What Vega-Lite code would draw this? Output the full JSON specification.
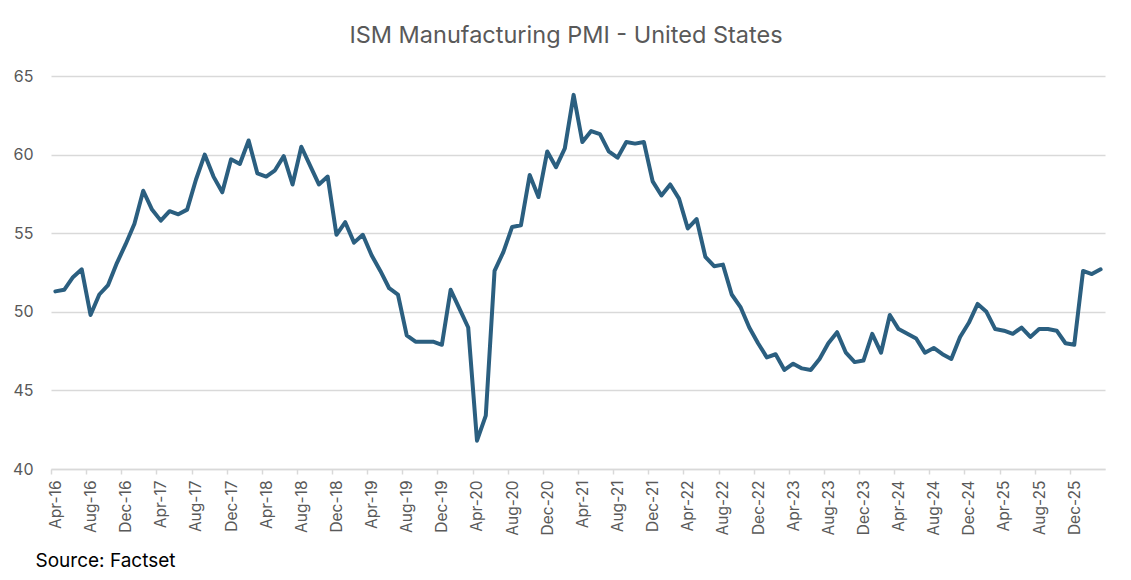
{
  "$schema": "https://vega.github.io/schema/vega-lite/v6.json",
  "width": 1054,
  "height": 393,
  "autosize": {"type": "none"},
  "padding": {"left": 51, "top": 76, "right": 26, "bottom": 111},
  "background": "white",
  "title": {
    "text": "ISM Manufacturing PMI - United States",
    "font": "Inter",
    "fontSize": 23.5,
    "fontWeight": "normal",
    "color": "#595959",
    "anchor": "middle",
    "baseline": "alphabetic",
    "dx": -12,
    "offset": 2
  },
  "config": {
    "view": {"stroke": null},
    "font": "Inter"
  },
  "data": {
    "values": [
      {"month": "Apr-16", "pmi": 51.3}, {"month": "May-16", "pmi": 51.4}, {"month": "Jun-16", "pmi": 52.2}, {"month": "Jul-16", "pmi": 52.7},
      {"month": "Aug-16", "pmi": 49.8}, {"month": "Sep-16", "pmi": 51.1}, {"month": "Oct-16", "pmi": 51.7}, {"month": "Nov-16", "pmi": 53.1},
      {"month": "Dec-16", "pmi": 54.3}, {"month": "Jan-17", "pmi": 55.6}, {"month": "Feb-17", "pmi": 57.7}, {"month": "Mar-17", "pmi": 56.5},
      {"month": "Apr-17", "pmi": 55.8}, {"month": "May-17", "pmi": 56.4}, {"month": "Jun-17", "pmi": 56.2}, {"month": "Jul-17", "pmi": 56.5},
      {"month": "Aug-17", "pmi": 58.4}, {"month": "Sep-17", "pmi": 60.0}, {"month": "Oct-17", "pmi": 58.6}, {"month": "Nov-17", "pmi": 57.6},
      {"month": "Dec-17", "pmi": 59.7}, {"month": "Jan-18", "pmi": 59.4}, {"month": "Feb-18", "pmi": 60.9}, {"month": "Mar-18", "pmi": 58.8},
      {"month": "Apr-18", "pmi": 58.6}, {"month": "May-18", "pmi": 59.0}, {"month": "Jun-18", "pmi": 59.9}, {"month": "Jul-18", "pmi": 58.1},
      {"month": "Aug-18", "pmi": 60.5}, {"month": "Sep-18", "pmi": 59.3}, {"month": "Oct-18", "pmi": 58.1}, {"month": "Nov-18", "pmi": 58.6},
      {"month": "Dec-18", "pmi": 54.9}, {"month": "Jan-19", "pmi": 55.7}, {"month": "Feb-19", "pmi": 54.4}, {"month": "Mar-19", "pmi": 54.9},
      {"month": "Apr-19", "pmi": 53.6}, {"month": "May-19", "pmi": 52.6}, {"month": "Jun-19", "pmi": 51.5}, {"month": "Jul-19", "pmi": 51.1},
      {"month": "Aug-19", "pmi": 48.5}, {"month": "Sep-19", "pmi": 48.1}, {"month": "Oct-19", "pmi": 48.1}, {"month": "Nov-19", "pmi": 48.1},
      {"month": "Dec-19", "pmi": 47.9}, {"month": "Jan-20", "pmi": 51.4}, {"month": "Feb-20", "pmi": 50.2}, {"month": "Mar-20", "pmi": 49.0},
      {"month": "Apr-20", "pmi": 41.8}, {"month": "May-20", "pmi": 43.4}, {"month": "Jun-20", "pmi": 52.6}, {"month": "Jul-20", "pmi": 53.8},
      {"month": "Aug-20", "pmi": 55.4}, {"month": "Sep-20", "pmi": 55.5}, {"month": "Oct-20", "pmi": 58.7}, {"month": "Nov-20", "pmi": 57.3},
      {"month": "Dec-20", "pmi": 60.2}, {"month": "Jan-21", "pmi": 59.2}, {"month": "Feb-21", "pmi": 60.4}, {"month": "Mar-21", "pmi": 63.8},
      {"month": "Apr-21", "pmi": 60.8}, {"month": "May-21", "pmi": 61.5}, {"month": "Jun-21", "pmi": 61.3}, {"month": "Jul-21", "pmi": 60.2},
      {"month": "Aug-21", "pmi": 59.8}, {"month": "Sep-21", "pmi": 60.8}, {"month": "Oct-21", "pmi": 60.7}, {"month": "Nov-21", "pmi": 60.8},
      {"month": "Dec-21", "pmi": 58.3}, {"month": "Jan-22", "pmi": 57.4}, {"month": "Feb-22", "pmi": 58.1}, {"month": "Mar-22", "pmi": 57.2},
      {"month": "Apr-22", "pmi": 55.3}, {"month": "May-22", "pmi": 55.9}, {"month": "Jun-22", "pmi": 53.5}, {"month": "Jul-22", "pmi": 52.9},
      {"month": "Aug-22", "pmi": 53.0}, {"month": "Sep-22", "pmi": 51.1}, {"month": "Oct-22", "pmi": 50.3}, {"month": "Nov-22", "pmi": 49.0},
      {"month": "Dec-22", "pmi": 48.0}, {"month": "Jan-23", "pmi": 47.1}, {"month": "Feb-23", "pmi": 47.3}, {"month": "Mar-23", "pmi": 46.3},
      {"month": "Apr-23", "pmi": 46.7}, {"month": "May-23", "pmi": 46.4}, {"month": "Jun-23", "pmi": 46.3}, {"month": "Jul-23", "pmi": 47.0},
      {"month": "Aug-23", "pmi": 48.0}, {"month": "Sep-23", "pmi": 48.7}, {"month": "Oct-23", "pmi": 47.4}, {"month": "Nov-23", "pmi": 46.8},
      {"month": "Dec-23", "pmi": 46.9}, {"month": "Jan-24", "pmi": 48.6}, {"month": "Feb-24", "pmi": 47.4}, {"month": "Mar-24", "pmi": 49.8},
      {"month": "Apr-24", "pmi": 48.9}, {"month": "May-24", "pmi": 48.6}, {"month": "Jun-24", "pmi": 48.3}, {"month": "Jul-24", "pmi": 47.4},
      {"month": "Aug-24", "pmi": 47.7}, {"month": "Sep-24", "pmi": 47.3}, {"month": "Oct-24", "pmi": 47.0}, {"month": "Nov-24", "pmi": 48.4},
      {"month": "Dec-24", "pmi": 49.3}, {"month": "Jan-25", "pmi": 50.5}, {"month": "Feb-25", "pmi": 50.0}, {"month": "Mar-25", "pmi": 48.9},
      {"month": "Apr-25", "pmi": 48.8}, {"month": "May-25", "pmi": 48.6}, {"month": "Jun-25", "pmi": 49.0}, {"month": "Jul-25", "pmi": 48.4},
      {"month": "Aug-25", "pmi": 48.9}, {"month": "Sep-25", "pmi": 48.9}, {"month": "Oct-25", "pmi": 48.8}, {"month": "Nov-25", "pmi": 48.0},
      {"month": "Dec-25", "pmi": 47.9}, {"month": "Jan-26", "pmi": 52.6}, {"month": "Feb-26", "pmi": 52.4}, {"month": "Mar-26", "pmi": 52.7}
    ]
  },
  "mark": {"type": "line", "color": "#2B5F80", "strokeWidth": 4, "strokeJoin": "round", "strokeCap": "round"},
  "encoding": {
    "x": {
      "field": "month",
      "type": "ordinal",
      "sort": null,
      "scale": {"type": "point", "padding": 0.5},
      "axis": {
        "values": ["Apr-16","Aug-16","Dec-16","Apr-17","Aug-17","Dec-17","Apr-18","Aug-18","Dec-18","Apr-19","Aug-19","Dec-19","Apr-20","Aug-20","Dec-20","Apr-21","Aug-21","Dec-21","Apr-22","Aug-22","Dec-22","Apr-23","Aug-23","Dec-23","Apr-24","Aug-24","Dec-24","Apr-25","Aug-25","Dec-25"],
        "tickOffset": -4.39,
        "labelOffset": 4.39,
        "labelAngle": -90,
        "labelFontSize": 15.5,
        "labelColor": "#595959",
        "labelPadding": 6,
        "domainColor": "#D9D9D9",
        "domainWidth": 1.5,
        "tickColor": "#D9D9D9",
        "tickWidth": 1.5,
        "tickSize": 5,
        "grid": false,
        "title": "Source: Factset",
        "titleFontSize": 19,
        "titleFontWeight": "normal",
        "titleColor": "#000000",
        "titleAnchor": "start",
        "titleAlign": "left",
        "titleBaseline": "alphabetic",
        "titleX": -16,
        "titleY": 97
      }
    },
    "y": {
      "field": "pmi",
      "type": "quantitative",
      "scale": {"domain": [40, 65], "nice": false, "zero": false},
      "axis": {
        "values": [40, 45, 50, 55, 60, 65],
        "grid": true,
        "gridColor": "#D9D9D9",
        "gridWidth": 1.5,
        "domain": false,
        "ticks": false,
        "labelFontSize": 16,
        "labelColor": "#595959",
        "labelPadding": 18,
        "title": null
      }
    }
  }
}
